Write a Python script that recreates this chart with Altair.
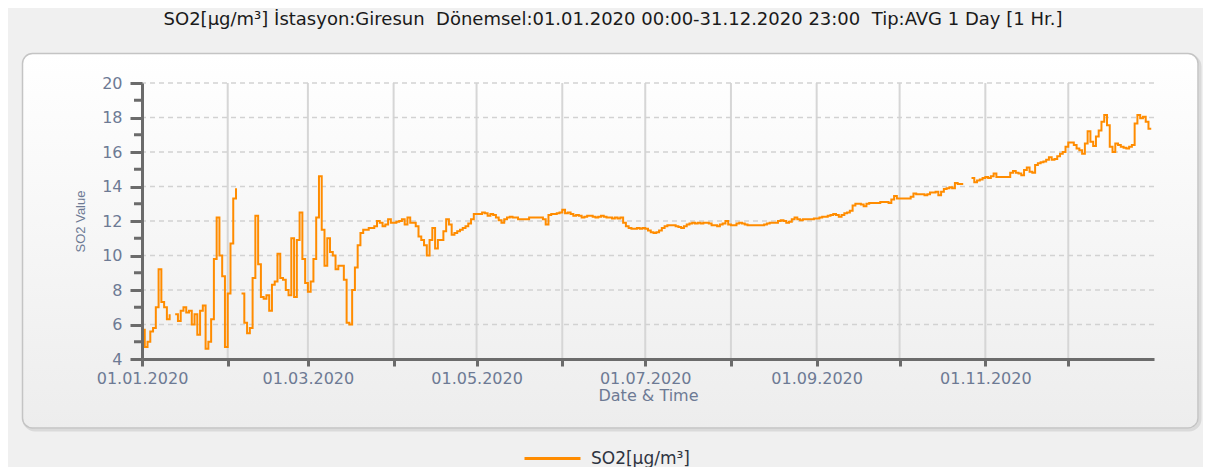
import altair as alt
import pandas as pd

# ---- data: daily SO2 averages (µg/m³) ----
jan = [5.7, 4.7, 5.0, 5.6, 5.8, 7.0, 9.2, 7.3, 7.0, 6.3, 6.6, None, 6.6, 6.2, 6.8, 7.0,
       6.7, 6.8, 6.0, 6.6, 5.4, 6.8, 7.1, 4.6, 5.0, 6.3, 9.8, 12.2, 10.0, 8.8, 4.7]
feb = [7.8, 10.7, 13.3, 13.9, None, 7.8, 6.1, 5.5, 5.8, 8.7, 12.3, 9.5, 7.6, 7.5, 7.7,
       6.8, 8.3, 8.5, 10.1, 8.7, 8.6, 8.0, 7.7, 11.0, 7.6, 10.9, 12.5, 9.8, 8.4]
mar = [7.9, 8.5, 9.8, 12.2, 14.6, 11.5, 9.4, 11.0, 10.2, 10.0, 9.2, 9.4, 9.4, 8.6, 6.1,
       6.0, 8.0, 9.3, 10.6, 11.3, 11.5, 11.5, 11.6, 11.6, 11.7, 12.0, 11.9, 11.7, 11.8,
       12.1, 11.9]
apr = [11.9, 11.95, 12.0, 12.1, 11.8, 12.2, 11.9, 11.9, 11.7, 11.1, 10.9, 10.6, 10.0,
       10.9, 11.6, 10.4, 10.9, 10.9, 11.4, 12.1, 11.8, 11.2, 11.3, 11.4, 11.5, 11.6,
       11.7, 11.85, 12.1, 12.4]
may = [12.4, 12.4, 12.5, 12.45, 12.3, 12.4, 12.35, 12.2, 12.05, 11.9, 12.1, 12.2, 12.25,
       12.2, 12.2, 12.1, 12.1, 12.1, 12.1, 12.2, 12.2, 12.2, 12.2, 12.2, 12.1, 11.8,
       12.35, 12.4, 12.4, 12.45, 12.5]
jun = [12.65, 12.45, 12.5, 12.4, 12.3, 12.35, 12.3, 12.2, 12.25, 12.3, 12.3, 12.25, 12.2,
       12.25, 12.3, 12.25, 12.2, 12.2, 12.15, 12.2, 12.15, 12.2, 11.9, 11.7, 11.6, 11.55,
       11.55, 11.6, 11.55, 11.6]
jul = [11.55, 11.45, 11.35, 11.3, 11.35, 11.45, 11.6, 11.7, 11.75, 11.75, 11.75, 11.7,
       11.65, 11.6, 11.7, 11.8, 11.85, 11.9, 11.85, 11.9, 11.85, 11.9, 11.9, 11.85, 11.75,
       11.75, 11.7, 11.8, 11.85, 12.0, 11.8]
aug = [11.75, 11.75, 11.85, 11.9, 11.85, 11.8, 11.75, 11.75, 11.75, 11.75, 11.75, 11.75,
       11.8, 11.85, 11.9, 11.9, 11.9, 12.0, 12.05, 12.0, 11.9, 11.95, 12.1, 12.2, 12.1,
       12.05, 12.1, 12.1, 12.1, 12.1, 12.15]
sep = [12.15, 12.2, 12.25, 12.25, 12.3, 12.35, 12.4, 12.35, 12.25, 12.35, 12.45, 12.5,
       12.6, 12.9, 13.0, 13.0, 12.95, 12.85, 13.0, 13.05, 13.05, 13.05, 13.05, 13.1, 13.1,
       13.1, 13.05, 13.25, 13.45, 13.3]
oct = [13.3, 13.3, 13.3, 13.3, 13.4, 13.6, 13.55, 13.55, 13.55, 13.5, 13.55, 13.65, 13.65,
       13.7, 13.5, 13.7, 13.85, 13.9, 13.95, 13.9, 14.2, 14.15, 14.15, 14.15, None, None,
       14.5, 14.25, 14.35, 14.4, 14.5]
nov = [14.55, 14.5, 14.6, 14.75, 14.55, 14.55, 14.55, 14.55, 14.55, 14.8, 14.9, 14.8,
       14.75, 14.65, 14.95, 15.1, 14.85, 14.8, 15.25, 15.35, 15.4, 15.45, 15.55, 15.7,
       15.55, 15.6, 15.75, 15.9, 16.0, 16.3]
dec = [16.55, 16.55, 16.4, 16.2, 16.1, 15.9, 16.5, 17.2, 16.6, 16.35, 16.9, 17.25, 17.75,
       18.15, 17.55, 16.3, 16.0, 16.5, 16.4, 16.3, 16.25, 16.2, 16.3, 16.4, 17.65, 18.15,
       17.95, 18.05, 17.75, 17.35, 17.35]

months = [jan, feb, mar, apr, may, jun, jul, aug, sep, oct, nov, dec]
series_name = "SO2[µg/m³]"
title_text = ("SO2[µg/m³] İstasyon:Giresun \u00a0Dönemsel:01.01.2020 00:00-31.12.2020 23:00"
              " \u00a0Tip:AVG 1 Day [1 Hr.]")
y_major = [4, 6, 8, 10, 12, 14, 16, 18, 20]
y_minor = [5, 7, 9, 11, 13, 15, 17, 19]
y_grid = [6, 8, 10, 12, 14, 16, 18, 20]

dates, values = [], []
for m, vals in enumerate(months, start=1):
    for d, v in enumerate(vals, start=1):
        dates.append(f"2020-{m:02d}-{d:02d}")
        values.append(v)
df = pd.DataFrame({"date": dates, "value": values, "series": series_name})

month_starts = [f"2020-{m:02d}-01" for m in range(1, 13)]
vgrid_df = pd.DataFrame({"date": month_starts})
hgrid_df = pd.DataFrame({"value": y_grid})
minor_df = pd.DataFrame({"value": y_minor})

FONT = "DejaVu Sans"
LBL = "#6d7a94"
AX = "#6b6b6b"

x_domain = [alt.DateTime(year=2020, month=1, date=1, utc=True),
            alt.DateTime(year=2021, month=1, date=1, utc=True)]
x_values = [alt.DateTime(year=2020, month=m, date=1, utc=True) for m in range(1, 13)]
x_scale = alt.Scale(type="utc", domain=x_domain)
y_scale = alt.Scale(domain=[4, 20], nice=False, zero=False)

one = pd.DataFrame({"p": [0]})
shadow = alt.Chart(one).mark_rect(
    cornerRadius=11, fillOpacity=0, stroke="#dadada", strokeWidth=3
).encode(x=alt.value(-118), x2=alt.value(1058), y=alt.value(-27.5), y2=alt.value(347))

panel = alt.Chart(one).mark_rect(
    cornerRadius=10, stroke="#c4c4c4", strokeWidth=1.5,
    fill=alt.Gradient(gradient="linear",
                      stops=[alt.GradientStop(color="#ffffff", offset=0),
                             alt.GradientStop(color="#ededed", offset=1)],
                      x1=0, x2=0, y1=0, y2=1),
).encode(x=alt.value(-119.5), x2=alt.value(1056), y=alt.value(-29.5), y2=alt.value(345))

vgrid = alt.Chart(vgrid_df).mark_rule(color="#d6d6d6", strokeWidth=2).encode(
    x=alt.X("date:T", scale=x_scale)
)
hgrid = alt.Chart(hgrid_df).mark_rule(color="#d2d2d2", strokeWidth=1.5, strokeDash=[5, 4]).encode(
    y=alt.Y("value:Q", scale=y_scale)
)
# minor (unlabelled) y-axis ticks at odd values
minor = alt.Chart(minor_df).mark_tick(
    orient="horizontal", size=8, thickness=3, color=AX, opacity=1
).encode(y=alt.Y("value:Q", scale=y_scale), x=alt.value(-4))

line = alt.Chart(df).mark_line(
    strokeWidth=2, interpolate="step-after", invalid="break-paths-show-domains"
).encode(
    x=alt.X("date:T", scale=x_scale, axis=alt.Axis(
        values=x_values,
        labelExpr="utcmonth(datum.value) % 2 == 0 ? utcFormat(datum.value, '%d.%m.%Y') : ''",
        title="Date & Time", grid=False, zindex=1,
        domainColor=AX, domainWidth=3, tickColor=AX, tickWidth=3, tickSize=7,
        labelFont=FONT, labelFontSize=16, labelColor=LBL, labelPadding=4,
        labelFlush=False, labelOverlap=False,
        titleFont=FONT, titleFontSize=16, titleFontWeight="normal", titleColor=LBL,
        titlePadding=1)),
    y=alt.Y("value:Q", scale=y_scale, axis=alt.Axis(
        values=y_major, tickCount=9,
        title="SO2 Value", grid=False, zindex=1,
        domainColor=AX, domainWidth=3, tickColor=AX, tickWidth=3, tickSize=12,
        labelFont=FONT, labelFontSize=16, labelColor=LBL, labelPadding=8,
        labelOverlap=False, labelBound=False, labelFlush=False,
        titleFont="Liberation Sans", titleFontSize=13, titleFontWeight="normal",
        titleColor=LBL, titlePadding=14)),
    color=alt.Color("series:N", scale=alt.Scale(range=["#ff8c00"]), legend=alt.Legend(
        orient="none", legendX=381, legendY=346, title=None,
        symbolType="stroke", symbolSize=3136, symbolStrokeWidth=3,
        labelFont=FONT, labelFontSize=17, labelColor="#2e3440", labelOffset=9,
        padding=0)),
)

chart = alt.layer(shadow, panel, vgrid, hgrid, line, minor).properties(
    width=1012, height=276,
    autosize=alt.AutoSizeParams(type="none"),
    padding={"left": 134, "top": 75, "right": 49, "bottom": 108},
    background="#f0f0f0",
    title=alt.TitleParams(title_text, font=FONT, fontSize=18, fontWeight="normal",
                          color="#1a1a1a", anchor="middle", dx=-35, offset=24),
).configure_view(stroke=None).configure_axisY(labelOverlap=False)

chart.save("out.html", embed_options={"renderer": "svg", "actions": False})
